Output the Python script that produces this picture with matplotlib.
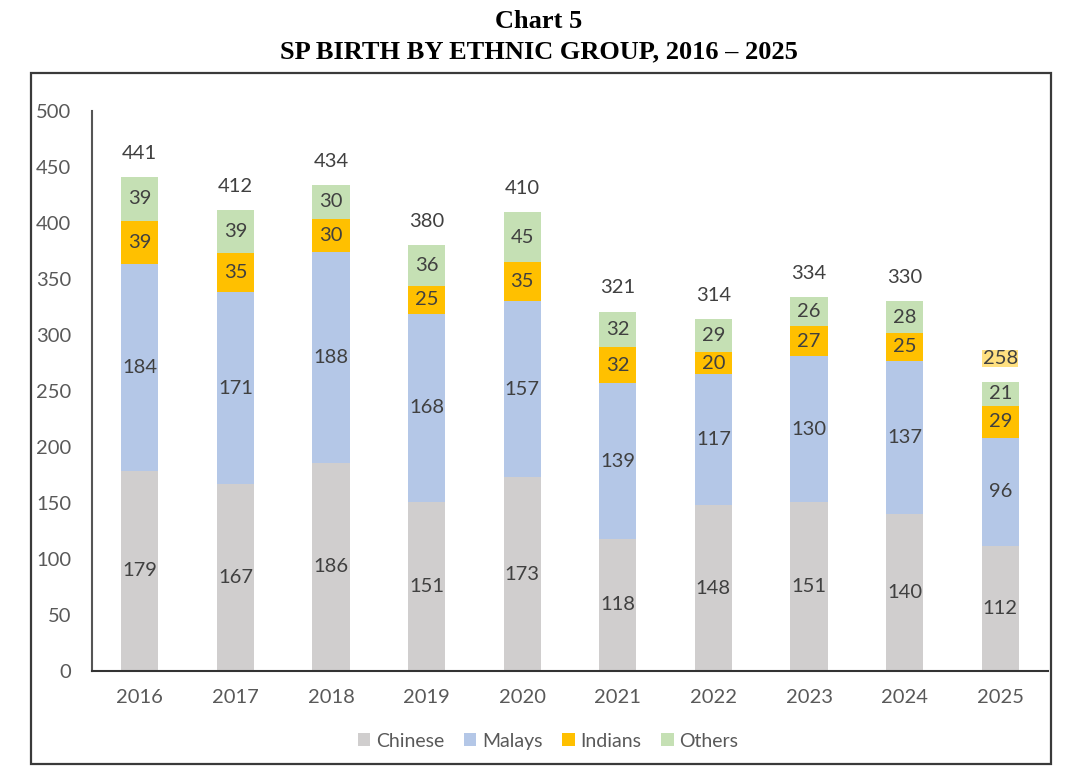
import numpy as np
import matplotlib.pyplot as plt
from matplotlib.patches import Rectangle

years = ['2016', '2017', '2018', '2019', '2020', '2021', '2022', '2023', '2024', '2025']
chinese = [179, 167, 186, 151, 173, 118, 148, 151, 140, 112]
malays = [184, 171, 188, 168, 157, 139, 117, 130, 137, 96]
indians = [39, 35, 30, 25, 35, 32, 20, 27, 25, 29]
others = [39, 39, 30, 36, 45, 32, 29, 26, 28, 21]

groups = ['Chinese', 'Malays', 'Indians', 'Others']
colors = ['#D0CECE', '#B4C7E7', '#FFC000', '#C5E0B4']

plt.rcParams['font.family'] = ['Lato', 'DejaVu Sans']

fig = plt.figure(figsize=(10.77, 7.78), dpi=100)
ax = fig.add_axes([0.0854, 0.1375, 0.8877, 0.7198])

# outer frame round the chart
fig.patches.append(Rectangle((0.0288, 0.018), 0.947, 0.888, transform=fig.transFigure,
                             fill=False, edgecolor='#3a3a3a', linewidth=1.6))

fig.text(0.5, 0.972, 'Chart 5', ha='center', va='center', fontsize=19,
         fontweight='bold', family='Liberation Serif')
fig.text(0.5, 0.934, 'SP BIRTH BY ETHNIC GROUP, 2016 \u2013 2025', ha='center', va='center',
         fontsize=19, fontweight='bold', family='Liberation Serif')

x = np.arange(len(years))
series = [chinese, malays, indians, others]
bottom = np.zeros(len(years))
for name, vals, c in zip(groups, series, colors):
    vals = np.array(vals)
    ax.bar(x, vals, width=0.39, bottom=bottom, color=c, label=name)
    for xi, b, v in zip(x, bottom, vals):
        ax.text(xi, b + v / 2, str(v), ha='center', va='center', fontsize=14.5, color='#404040')
    bottom += vals

totals = bottom.astype(int)
for xi, t in zip(x, totals):
    if xi == len(years) - 1:
        ax.text(xi, t + 21, str(t), ha='center', va='center', fontsize=14.5, color='#404040',
                bbox=dict(boxstyle='square,pad=0.02', facecolor='#FFE080', edgecolor='none'))
    else:
        ax.text(xi, t + 21, str(t), ha='center', va='center', fontsize=14.5, color='#404040')

ax.set_xlim(-0.5, 9.5)
ax.set_ylim(0, 500)
ax.set_yticks(np.arange(0, 501, 50))
ax.set_xticks(x)
ax.set_xticklabels(years)
ax.tick_params(axis='both', length=0, labelsize=14.5, labelcolor='#595959')
ax.tick_params(axis='y', pad=15)
ax.tick_params(axis='x', pad=13)
for s in ['top', 'right']:
    ax.spines[s].set_visible(False)
ax.spines['left'].set_color('#555555')
ax.spines['bottom'].set_color('#333333')
ax.spines['left'].set_linewidth(1.5)
ax.spines['bottom'].set_linewidth(1.5)

leg = ax.legend(loc='center', bbox_to_anchor=(0.477, -0.125), ncol=4, frameon=False,
                fontsize=14, handlelength=0.65, handleheight=0.65, handletextpad=0.3,
                columnspacing=1.0)
for t in leg.get_texts():
    t.set_color('#595959')

fig.savefig('out.png', dpi=100)
